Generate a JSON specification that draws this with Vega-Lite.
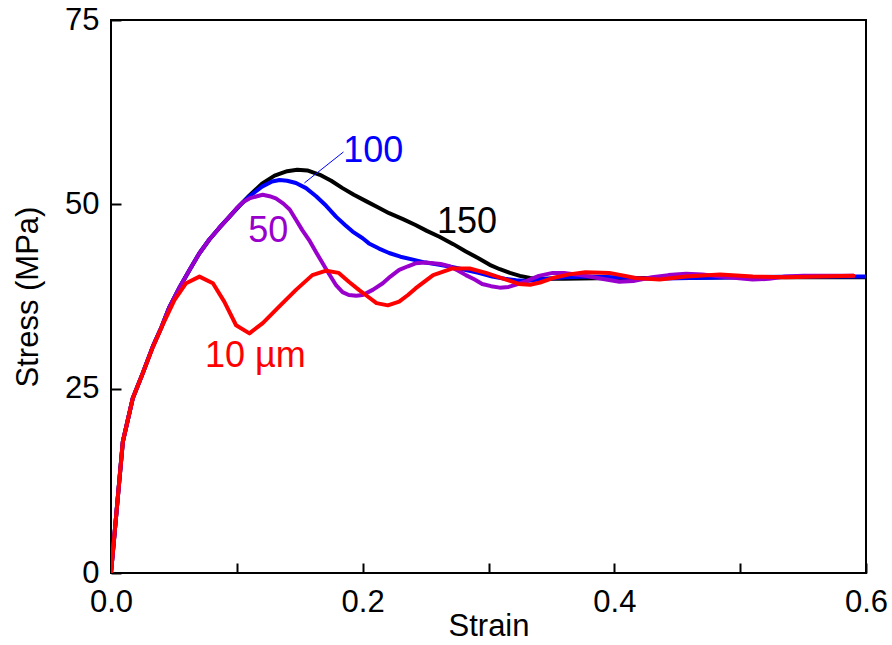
{
  "$schema": "https://vega.github.io/schema/vega-lite/v6.json",
  "width": 755,
  "height": 553,
  "autosize": {"type": "none"},
  "padding": {"left": 111, "top": 20, "right": 26, "bottom": 72},
  "background": "white",
  "config": {
    "font": "Liberation Sans",
    "view": {"stroke": "#000000", "strokeWidth": 2},
    "axis": {
      "grid": false,
      "domain": false,
      "tickColor": "#000000",
      "tickWidth": 2,
      "tickSize": -10,
      "labelColor": "#000000",
      "titleColor": "#000000",
      "labelFont": "Liberation Sans",
      "titleFont": "Liberation Sans",
      "labelFontSize": 31,
      "titleFontSize": 31,
      "titleFontWeight": "normal"
    }
  },
  "datasets": {
    "curves": [
      {"series": "150", "strain": 0, "stress": 0},
      {"series": "150", "strain": 0.0094, "stress": 17.8},
      {"series": "150", "strain": 0.0173, "stress": 23.7},
      {"series": "150", "strain": 0.025, "stress": 27.0},
      {"series": "150", "strain": 0.0332, "stress": 30.7},
      {"series": "150", "strain": 0.04, "stress": 33.3},
      {"series": "150", "strain": 0.0465, "stress": 36.1},
      {"series": "150", "strain": 0.055, "stress": 38.9},
      {"series": "150", "strain": 0.0624, "stress": 41.1},
      {"series": "150", "strain": 0.07, "stress": 43.3},
      {"series": "150", "strain": 0.078, "stress": 45.2},
      {"series": "150", "strain": 0.086, "stress": 46.8},
      {"series": "150", "strain": 0.094, "stress": 48.3},
      {"series": "150", "strain": 0.102, "stress": 49.8},
      {"series": "150", "strain": 0.11, "stress": 51.2},
      {"series": "150", "strain": 0.12, "stress": 52.8},
      {"series": "150", "strain": 0.13, "stress": 53.9},
      {"series": "150", "strain": 0.14, "stress": 54.5},
      {"series": "150", "strain": 0.148, "stress": 54.7},
      {"series": "150", "strain": 0.156, "stress": 54.6},
      {"series": "150", "strain": 0.166, "stress": 54.0},
      {"series": "150", "strain": 0.175, "stress": 53.2},
      {"series": "150", "strain": 0.184, "stress": 52.2},
      {"series": "150", "strain": 0.193, "stress": 51.3},
      {"series": "150", "strain": 0.203, "stress": 50.4},
      {"series": "150", "strain": 0.212, "stress": 49.6},
      {"series": "150", "strain": 0.221, "stress": 48.8},
      {"series": "150", "strain": 0.232, "stress": 48.0},
      {"series": "150", "strain": 0.242, "stress": 47.2},
      {"series": "150", "strain": 0.251, "stress": 46.4},
      {"series": "150", "strain": 0.261, "stress": 45.6},
      {"series": "150", "strain": 0.272, "stress": 44.6},
      {"series": "150", "strain": 0.282, "stress": 43.6},
      {"series": "150", "strain": 0.292, "stress": 42.7},
      {"series": "150", "strain": 0.301, "stress": 41.8},
      {"series": "150", "strain": 0.309, "stress": 41.2},
      {"series": "150", "strain": 0.317, "stress": 40.7},
      {"series": "150", "strain": 0.325, "stress": 40.3},
      {"series": "150", "strain": 0.333, "stress": 40.0},
      {"series": "150", "strain": 0.345, "stress": 39.9},
      {"series": "150", "strain": 0.36, "stress": 39.9},
      {"series": "150", "strain": 0.4, "stress": 40.0},
      {"series": "150", "strain": 0.45, "stress": 40.0},
      {"series": "150", "strain": 0.5, "stress": 40.1},
      {"series": "150", "strain": 0.55, "stress": 40.1},
      {"series": "150", "strain": 0.6, "stress": 40.1},

      {"series": "100", "strain": 0, "stress": 0},
      {"series": "100", "strain": 0.0094, "stress": 17.8},
      {"series": "100", "strain": 0.0173, "stress": 23.7},
      {"series": "100", "strain": 0.025, "stress": 27.0},
      {"series": "100", "strain": 0.0332, "stress": 30.7},
      {"series": "100", "strain": 0.04, "stress": 33.3},
      {"series": "100", "strain": 0.0465, "stress": 36.1},
      {"series": "100", "strain": 0.055, "stress": 38.9},
      {"series": "100", "strain": 0.0624, "stress": 41.1},
      {"series": "100", "strain": 0.07, "stress": 43.3},
      {"series": "100", "strain": 0.078, "stress": 45.2},
      {"series": "100", "strain": 0.086, "stress": 46.8},
      {"series": "100", "strain": 0.094, "stress": 48.3},
      {"series": "100", "strain": 0.102, "stress": 49.8},
      {"series": "100", "strain": 0.11, "stress": 51.1},
      {"series": "100", "strain": 0.12, "stress": 52.4},
      {"series": "100", "strain": 0.128, "stress": 53.1},
      {"series": "100", "strain": 0.134, "stress": 53.3},
      {"series": "100", "strain": 0.14, "stress": 53.2},
      {"series": "100", "strain": 0.147, "stress": 52.9},
      {"series": "100", "strain": 0.155, "stress": 52.2},
      {"series": "100", "strain": 0.163, "stress": 51.1},
      {"series": "100", "strain": 0.171, "stress": 49.8},
      {"series": "100", "strain": 0.179, "stress": 48.3},
      {"series": "100", "strain": 0.186, "stress": 47.2},
      {"series": "100", "strain": 0.192, "stress": 46.3},
      {"series": "100", "strain": 0.2, "stress": 45.4},
      {"series": "100", "strain": 0.205, "stress": 44.7},
      {"series": "100", "strain": 0.213, "stress": 44.0},
      {"series": "100", "strain": 0.221, "stress": 43.4},
      {"series": "100", "strain": 0.23, "stress": 42.9},
      {"series": "100", "strain": 0.24, "stress": 42.5},
      {"series": "100", "strain": 0.25, "stress": 42.1},
      {"series": "100", "strain": 0.261, "stress": 41.8},
      {"series": "100", "strain": 0.271, "stress": 41.5},
      {"series": "100", "strain": 0.282, "stress": 41.1},
      {"series": "100", "strain": 0.292, "stress": 40.7},
      {"series": "100", "strain": 0.303, "stress": 40.2},
      {"series": "100", "strain": 0.313, "stress": 39.9},
      {"series": "100", "strain": 0.322, "stress": 39.7},
      {"series": "100", "strain": 0.33, "stress": 39.6},
      {"series": "100", "strain": 0.34, "stress": 39.8},
      {"series": "100", "strain": 0.36, "stress": 40.1},
      {"series": "100", "strain": 0.38, "stress": 40.2},
      {"series": "100", "strain": 0.4, "stress": 40.1},
      {"series": "100", "strain": 0.43, "stress": 39.9},
      {"series": "100", "strain": 0.46, "stress": 40.0},
      {"series": "100", "strain": 0.5, "stress": 40.1},
      {"series": "100", "strain": 0.55, "stress": 40.2},
      {"series": "100", "strain": 0.6, "stress": 40.2},

      {"series": "50", "strain": 0, "stress": 0},
      {"series": "50", "strain": 0.0094, "stress": 17.8},
      {"series": "50", "strain": 0.0173, "stress": 23.7},
      {"series": "50", "strain": 0.025, "stress": 27.0},
      {"series": "50", "strain": 0.0332, "stress": 30.7},
      {"series": "50", "strain": 0.04, "stress": 33.3},
      {"series": "50", "strain": 0.0465, "stress": 36.1},
      {"series": "50", "strain": 0.055, "stress": 38.9},
      {"series": "50", "strain": 0.0624, "stress": 41.1},
      {"series": "50", "strain": 0.07, "stress": 43.3},
      {"series": "50", "strain": 0.078, "stress": 45.2},
      {"series": "50", "strain": 0.086, "stress": 46.8},
      {"series": "50", "strain": 0.094, "stress": 48.3},
      {"series": "50", "strain": 0.1, "stress": 49.5},
      {"series": "50", "strain": 0.105, "stress": 50.3},
      {"series": "50", "strain": 0.11, "stress": 50.8},
      {"series": "50", "strain": 0.116, "stress": 51.1},
      {"series": "50", "strain": 0.1206, "stress": 51.3},
      {"series": "50", "strain": 0.126, "stress": 51.1},
      {"series": "50", "strain": 0.131, "stress": 50.8},
      {"series": "50", "strain": 0.137, "stress": 50.1},
      {"series": "50", "strain": 0.142, "stress": 49.3},
      {"series": "50", "strain": 0.147, "stress": 47.9},
      {"series": "50", "strain": 0.152, "stress": 46.5},
      {"series": "50", "strain": 0.158, "stress": 45.0},
      {"series": "50", "strain": 0.163, "stress": 43.5},
      {"series": "50", "strain": 0.171, "stress": 41.2},
      {"series": "50", "strain": 0.179, "stress": 39.0},
      {"series": "50", "strain": 0.184, "stress": 38.1},
      {"series": "50", "strain": 0.189, "stress": 37.7},
      {"series": "50", "strain": 0.195, "stress": 37.6},
      {"series": "50", "strain": 0.2, "stress": 37.7},
      {"series": "50", "strain": 0.208, "stress": 38.4},
      {"series": "50", "strain": 0.216, "stress": 39.3},
      {"series": "50", "strain": 0.222, "stress": 40.2},
      {"series": "50", "strain": 0.229, "stress": 41.1},
      {"series": "50", "strain": 0.236, "stress": 41.6},
      {"series": "50", "strain": 0.242, "stress": 42.0},
      {"series": "50", "strain": 0.25, "stress": 42.1},
      {"series": "50", "strain": 0.256, "stress": 42.0},
      {"series": "50", "strain": 0.262, "stress": 41.9},
      {"series": "50", "strain": 0.269, "stress": 41.6},
      {"series": "50", "strain": 0.276, "stress": 41.0},
      {"series": "50", "strain": 0.282, "stress": 40.4},
      {"series": "50", "strain": 0.289, "stress": 39.8},
      {"series": "50", "strain": 0.295, "stress": 39.2},
      {"series": "50", "strain": 0.302, "stress": 38.9},
      {"series": "50", "strain": 0.309, "stress": 38.7},
      {"series": "50", "strain": 0.316, "stress": 38.8},
      {"series": "50", "strain": 0.322, "stress": 39.1},
      {"series": "50", "strain": 0.33, "stress": 39.6},
      {"series": "50", "strain": 0.34, "stress": 40.3},
      {"series": "50", "strain": 0.351, "stress": 40.7},
      {"series": "50", "strain": 0.36, "stress": 40.7},
      {"series": "50", "strain": 0.377, "stress": 40.3},
      {"series": "50", "strain": 0.39, "stress": 39.9},
      {"series": "50", "strain": 0.404, "stress": 39.5},
      {"series": "50", "strain": 0.415, "stress": 39.6},
      {"series": "50", "strain": 0.43, "stress": 40.1},
      {"series": "50", "strain": 0.443, "stress": 40.4},
      {"series": "50", "strain": 0.457, "stress": 40.6},
      {"series": "50", "strain": 0.47, "stress": 40.5},
      {"series": "50", "strain": 0.484, "stress": 40.2},
      {"series": "50", "strain": 0.497, "stress": 40.0},
      {"series": "50", "strain": 0.51, "stress": 39.8},
      {"series": "50", "strain": 0.523, "stress": 39.9},
      {"series": "50", "strain": 0.536, "stress": 40.2},
      {"series": "50", "strain": 0.55, "stress": 40.3},
      {"series": "50", "strain": 0.563, "stress": 40.3},
      {"series": "50", "strain": 0.59, "stress": 40.3},

      {"series": "10", "strain": 0, "stress": 0},
      {"series": "10", "strain": 0.0094, "stress": 17.8},
      {"series": "10", "strain": 0.0173, "stress": 23.7},
      {"series": "10", "strain": 0.025, "stress": 27.0},
      {"series": "10", "strain": 0.0332, "stress": 30.6},
      {"series": "10", "strain": 0.042, "stress": 34.0},
      {"series": "10", "strain": 0.0504, "stress": 37.0},
      {"series": "10", "strain": 0.0597, "stress": 39.3},
      {"series": "10", "strain": 0.0703, "stress": 40.2},
      {"series": "10", "strain": 0.081, "stress": 39.3},
      {"series": "10", "strain": 0.09, "stress": 36.8},
      {"series": "10", "strain": 0.0994, "stress": 33.6},
      {"series": "10", "strain": 0.11, "stress": 32.5},
      {"series": "10", "strain": 0.1206, "stress": 33.9},
      {"series": "10", "strain": 0.134, "stress": 36.2},
      {"series": "10", "strain": 0.147, "stress": 38.4},
      {"series": "10", "strain": 0.16, "stress": 40.4},
      {"series": "10", "strain": 0.171, "stress": 41.0},
      {"series": "10", "strain": 0.181, "stress": 40.7},
      {"series": "10", "strain": 0.189, "stress": 39.5},
      {"series": "10", "strain": 0.197, "stress": 38.4},
      {"series": "10", "strain": 0.204, "stress": 37.5},
      {"series": "10", "strain": 0.211, "stress": 36.6},
      {"series": "10", "strain": 0.22, "stress": 36.3},
      {"series": "10", "strain": 0.229, "stress": 36.8},
      {"series": "10", "strain": 0.236, "stress": 37.7},
      {"series": "10", "strain": 0.242, "stress": 38.6},
      {"series": "10", "strain": 0.256, "stress": 40.4},
      {"series": "10", "strain": 0.2715, "stress": 41.3},
      {"series": "10", "strain": 0.285, "stress": 41.3},
      {"series": "10", "strain": 0.298, "stress": 40.7},
      {"series": "10", "strain": 0.314, "stress": 39.8},
      {"series": "10", "strain": 0.324, "stress": 39.2},
      {"series": "10", "strain": 0.333, "stress": 39.1},
      {"series": "10", "strain": 0.341, "stress": 39.4},
      {"series": "10", "strain": 0.351, "stress": 40.0},
      {"series": "10", "strain": 0.364, "stress": 40.5},
      {"series": "10", "strain": 0.377, "stress": 40.8},
      {"series": "10", "strain": 0.396, "stress": 40.7},
      {"series": "10", "strain": 0.417, "stress": 40.0},
      {"series": "10", "strain": 0.436, "stress": 39.8},
      {"series": "10", "strain": 0.457, "stress": 40.2},
      {"series": "10", "strain": 0.484, "stress": 40.5},
      {"series": "10", "strain": 0.51, "stress": 40.2},
      {"series": "10", "strain": 0.536, "stress": 40.1},
      {"series": "10", "strain": 0.563, "stress": 40.2},
      {"series": "10", "strain": 0.59, "stress": 40.3}
    ],
    "labels": [
      {"series": "150", "text": "150", "strain": 0.283, "stress": 46.1},
      {"series": "100", "text": "100", "strain": 0.2085, "stress": 55.8},
      {"series": "50", "text": "50", "strain": 0.125, "stress": 44.9},
      {"series": "10", "text": "10 µm", "strain": 0.1148, "stress": 27.9}
    ],
    "leader": [
      {"series": "100", "strain": 0.1537, "stress": 52.9, "strain2": 0.1847, "stress2": 57.1}
    ]
  },
  "layer": [
    {
      "data": {"name": "curves"},
      "transform": [{"filter": "datum.series === '150'"}],
      "mark": {"type": "line", "strokeWidth": 4, "strokeJoin": "round", "strokeCap": "round", "clip": true},
      "encoding": {
        "x": {"field": "strain", "type": "quantitative", "scale": {"domain": [0, 0.6], "nice": false},
          "axis": {"title": "Strain", "values": [0, 0.1, 0.2, 0.3, 0.4, 0.5, 0.6],
            "labelExpr": "round(datum.value * 10) % 2 == 0 ? format(datum.value, '.1f') : ''",
            "labelPadding": 24, "titlePadding": -6, "labelFlush": false, "labelOverlap": false}},
        "y": {"field": "stress", "type": "quantitative", "scale": {"domain": [0, 75], "nice": false},
          "axis": {"title": "Stress (MPa)", "values": [0, 25, 50, 75], "labelPadding": 22, "titlePadding": 20, "labelFlush": false, "labelOverlap": false}},
        "color": {"field": "series", "type": "nominal", "legend": null,
          "scale": {"domain": ["150", "100", "50", "10"], "range": ["#000000", "#0000ff", "#9900cc", "#ff0000"]}}
      }
    },
    {
      "data": {"name": "curves"},
      "transform": [{"filter": "datum.series === '100'"}],
      "mark": {"type": "line", "strokeWidth": 4, "strokeJoin": "round", "strokeCap": "round", "clip": true},
      "encoding": {
        "x": {"field": "strain", "type": "quantitative"},
        "y": {"field": "stress", "type": "quantitative"},
        "color": {"field": "series", "type": "nominal", "legend": null}
      }
    },
    {
      "data": {"name": "curves"},
      "transform": [{"filter": "datum.series === '50'"}],
      "mark": {"type": "line", "strokeWidth": 4, "strokeJoin": "round", "strokeCap": "round", "clip": true},
      "encoding": {
        "x": {"field": "strain", "type": "quantitative"},
        "y": {"field": "stress", "type": "quantitative"},
        "color": {"field": "series", "type": "nominal", "legend": null}
      }
    },
    {
      "data": {"name": "curves"},
      "transform": [{"filter": "datum.series === '10'"}],
      "mark": {"type": "line", "strokeWidth": 4, "strokeJoin": "round", "strokeCap": "round", "clip": true},
      "encoding": {
        "x": {"field": "strain", "type": "quantitative"},
        "y": {"field": "stress", "type": "quantitative"},
        "color": {"field": "series", "type": "nominal", "legend": null}
      }
    },
    {
      "data": {"name": "leader"},
      "mark": {"type": "rule", "strokeWidth": 1},
      "encoding": {
        "x": {"field": "strain", "type": "quantitative"},
        "y": {"field": "stress", "type": "quantitative"},
        "x2": {"field": "strain2"},
        "y2": {"field": "stress2"},
        "color": {"field": "series", "type": "nominal", "legend": null}
      }
    },
    {
      "data": {"name": "labels"},
      "mark": {"type": "text", "fontSize": 36, "align": "center", "baseline": "alphabetic", "font": "Liberation Sans"},
      "encoding": {
        "x": {"field": "strain", "type": "quantitative"},
        "y": {"field": "stress", "type": "quantitative"},
        "text": {"field": "text"},
        "color": {"field": "series", "type": "nominal", "legend": null}
      }
    }
  ]
}
